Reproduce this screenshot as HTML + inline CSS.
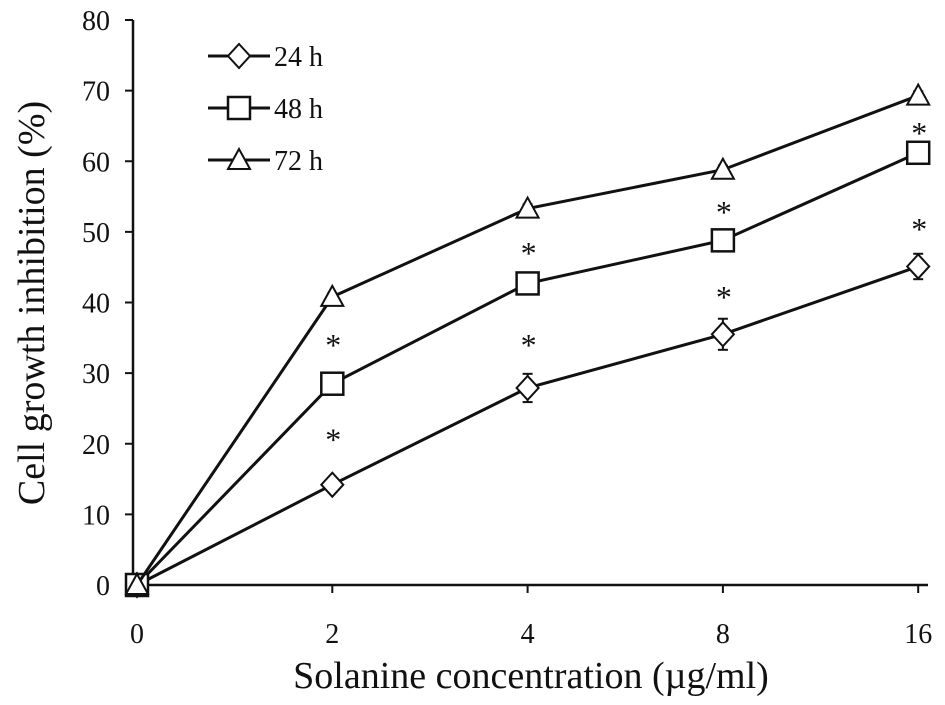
<!DOCTYPE html>
<html><head><meta charset="utf-8"><style>
body{margin:0;background:#fff}
svg{display:block;font-family:"Liberation Serif",serif}
</style></head><body>
<svg id="c" width="945" height="705" xmlns="http://www.w3.org/2000/svg">
</svg>
<script>
const categories=["0","2","4","8","16"];
const s24=[0,14.2,27.9,35.5,45.1];
const s48=[0,28.5,42.7,48.8,61.2];
const s72=[0,40.8,53.3,58.8,69.3];
const e24=[0,0.8,2,2.2,1.8];
const e48=[0,1,1.2,0.8,1];
const e72=[0,0.5,0.6,0.6,0.6];
const yTicks=[0,10,20,30,40,50,60,70,80];
const stars24=[null,21.3,34.7,41.5,51.1];
const stars48=[null,34.7,47.7,53.5,64.7];
const NS="http://www.w3.org/2000/svg";
const svg=document.getElementById('c');
const X=i=>137+i*195.3;
const Y=v=>585-v*7.0625;
function el(t,a,p){const e=document.createElementNS(NS,t);for(const k in a)e.setAttribute(k,a[k]);(p||svg).appendChild(e);return e;}
function txt(x,y,s,size,anchor){const t=el('text',{x,y,'font-size':size,'text-anchor':anchor||'middle',fill:'#111'});t.textContent=s;return t;}
let ya=el('line',{x1:133,y1:Y(80),x2:133,y2:585,stroke:'#111','stroke-width':2.5});


let xa=el('line',{x1:133,y1:585,x2:928,y2:585,stroke:'#111','stroke-width':2.5});


yTicks.forEach(v=>{el('line',{x1:125,y1:Y(v),x2:133,y2:Y(v),stroke:'#111','stroke-width':2});
 let t=txt(110,Y(v)+10,v,28,'end');
 
 });
categories.forEach((c,i)=>{if(i>0)el('line',{x1:X(i),y1:585,x2:X(i),y2:593,stroke:'#111','stroke-width':2});
 let t=txt(X(i),643,c,28);
 
 });
let xt=txt(531,688,"Solanine concentration (µg/ml)",38);


let yt=txt(0,0,"Cell growth inhibition (%)",38);
yt.setAttribute('transform','translate(44,303) rotate(-90)');


function marker(type,x,y,g){
 if(type==='d')return el('polygon',{points:`${x},${y-12} ${x+11},${y} ${x},${y+12} ${x-11},${y}`,fill:'#fff',stroke:'#111','stroke-width':2},g);
 if(type==='s')return el('rect',{x:x-11,y:y-11,width:22,height:22,fill:'#fff',stroke:'#111','stroke-width':2.5},g);
 return el('polygon',{points:`${x},${y-11} ${x+11},${y+9} ${x-11},${y+9}`,fill:'#fff',stroke:'#111','stroke-width':2},g);
}
function series(vals,errs,type,name){
 const g=el('g',{});
 
 
 el('polyline',{points:vals.map((v,i)=>X(i)+','+Y(v)).join(' '),fill:'none',stroke:'#111','stroke-width':3},g);
 vals.forEach((v,i)=>{
  if(errs[i]>0){el('line',{x1:X(i),y1:Y(v+errs[i]),x2:X(i),y2:Y(v-errs[i]),stroke:'#111','stroke-width':2},g);
   el('line',{x1:X(i)-5,y1:Y(v+errs[i]),x2:X(i)+5,y2:Y(v+errs[i]),stroke:'#111','stroke-width':2},g);
   el('line',{x1:X(i)-5,y1:Y(v-errs[i]),x2:X(i)+5,y2:Y(v-errs[i]),stroke:'#111','stroke-width':2},g);}
  const m=marker(type,X(i),Y(v),g);
  
  
 });
}
series(s24,e24,'d','series-24h');
series(s48,e48,'s','series-48h');
series(s72,e72,'t','series-72h');
function stars(pos){pos.forEach((v,i)=>{if(v===null)return;
 let t=txt(X(i)+1,Y(v)+16,'*',32);
 
 });}
stars(stars24);
stars(stars48);
const lg=el('g',{});


[['d','24 h',56],['s','48 h',108],['t','72 h',160]].forEach(([t,l,y])=>{
 el('line',{x1:208,y1:y,x2:270,y2:y,stroke:'#111','stroke-width':3},lg);
 marker(t,239,y,lg);
 const tx=el('text',{x:274,y:y+10,'font-size':28,fill:'#111'},lg);tx.textContent=l;
 
 
});
</script>
</body></html>
